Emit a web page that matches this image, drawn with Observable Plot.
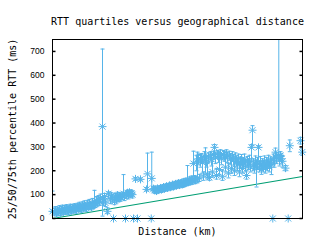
<!DOCTYPE html>
<html>
<head>
<meta charset="utf-8">
<script src="https://cdn.jsdelivr.net/npm/d3@7"></script>
<script src="https://cdn.jsdelivr.net/npm/@observablehq/plot@0.6"></script>
<style>
  html, body { margin: 0; padding: 0; background: #fff; }
  #chart svg { display: block; background: #fff; }
</style>
</head>
<body>
<div id="chart"></div>
<script>
// ---- data ----
const distKm = [
  0,160,240,320,400,480,560,640,720,800,880,960,1040,1120,1200,1280,1360,1440,1520,1600,1680,1760,1840,1920,2000,2080,2160,2240,2320,2400,2480,2560,2640,2720,2800,2880,2960,3040,3120,3200,3280,3360,3440,3520,3600,3680,3760,3840,
  4000,4080,4160,4240,4400,4480,4640,4720,4800,4880,4960,5040,5120,5200,5280,5360,5440,5600,5680,5760,5840,5920,6000,6080,6160,6240,6320,6400,6480,6640,6800,7040,7520,7600,7900,7940,
  8080,8160,8240,8320,8400,8480,8560,8640,8720,8800,8880,8960,9040,9120,9200,9280,9360,9440,9520,9600,9680,9760,9840,9920,10000,10080,10160,10240,10320,10400,10480,10560,10640,10720,10800,10880,10960,11040,11120,11200,11280,11360,11440,11520,11600,11680,11760,
  11840,11920,12000,12080,12160,12240,12320,12400,12480,12560,12640,12720,12800,12880,12960,13040,13120,13200,13280,13360,13440,13520,13600,13680,13760,13840,13920,14000,14080,14160,14240,14320,14400,14480,14560,14640,14720,14800,14880,14960,15040,15120,15200,15280,15360,15440,15520,15600,15680,15760,15840,15920,16000,16080,16160,16240,16320,16400,16480,16560,16640,16720,16800,16880,16960,17040,17120,17200,17280,17360,17440,17520,
  17624,17680,17760,17840,17920,18104,18160,18240,18320,18400,18640,18856,18984,19840,19976
];
const rttMedian = [
  30,26,34,22,32,27,38,24,33,40,29,37,32,42,35,28,40,44,34,42,37,46,40,35,48,42,50,44,39,52,46,55,49,43,57,51,60,54,48,63,56,66,60,72,66,78,70,84,
  385,70,92,65,30,104,78,95,85,0,72,90,80,98,86,92,88,95,104,90,0,100,108,98,110,104,106,100,0,166,0,164,122,187,0,168,
  125,118,122,115,126,120,124,128,121,127,132,125,130,135,128,134,138,131,136,142,134,140,145,138,144,148,140,146,150,143,152,147,155,150,158,152,160,155,162,158,230,165,160,240,168,250,170,
  245,255,235,178,262,250,240,185,258,172,265,248,195,268,298,255,180,270,260,205,272,250,175,268,262,215,270,258,190,265,250,210,262,245,200,255,240,225,250,195,235,245,210,232,248,220,180,240,228,245,215,298,370,225,210,240,220,230,298,215,238,205,228,218,240,210,232,222,245,215,235,225,
  0,250,240,278,255,263,245,264,250,240,211,0,305,326,278
];
const rttQ25 = [
  18,14,20,10,18,14,24,12,20,26,16,24,18,28,22,16,26,30,20,28,24,32,28,22,34,30,36,30,26,38,32,40,36,30,42,38,45,40,36,48,42,50,46,56,52,62,55,68,
  10,55,75,50,20,85,62,80,68,0,58,75,65,82,70,76,72,80,88,75,0,85,92,82,95,90,92,86,0,160,0,158,115,120,0,120,
  112,106,110,104,114,108,112,115,109,114,120,113,118,122,116,122,126,119,124,130,122,128,132,126,132,136,128,134,138,130,140,134,142,138,144,140,146,142,148,144,175,150,146,200,150,225,155,
  215,230,190,160,240,190,215,165,235,160,245,220,175,250,270,230,165,252,235,185,255,225,160,248,240,195,250,235,170,245,225,190,240,220,180,230,215,200,225,175,210,220,190,210,225,195,165,215,205,220,195,240,305,200,190,215,132,205,240,195,212,185,205,195,215,190,210,200,220,195,212,184,
  0,225,215,250,230,245,220,240,228,215,200,0,280,312,265
];
const rttQ75 = [
  115,44,50,40,48,44,54,40,50,56,46,54,48,58,52,44,56,60,50,58,54,62,58,52,64,60,68,62,56,70,64,74,66,60,76,68,80,72,66,84,74,118,78,92,86,96,90,102,
  710,88,105,82,45,112,95,108,100,0,90,105,98,110,102,108,104,110,184,106,0,115,118,112,120,116,118,114,0,172,0,170,130,274,0,278,
  135,128,132,125,136,130,134,138,131,137,142,135,140,145,138,144,148,142,146,152,146,150,156,150,155,160,152,158,162,156,165,160,168,164,222,166,174,170,178,174,282,180,176,265,278,270,185,
  268,272,260,195,280,296,262,230,275,195,280,270,240,282,310,275,210,285,280,250,288,270,200,285,280,260,288,278,230,282,272,255,280,268,240,275,262,250,270,235,258,268,250,255,270,245,200,260,250,265,240,310,389,250,235,262,245,255,305,240,260,230,250,242,262,232,255,245,265,238,258,250,
  0,270,262,295,275,900,268,280,270,260,222,0,329,340,292
];
const lineKm = [0, 20000];
const lineMs = [0, 176];
const yTicks = [0, 100, 200, 300, 400, 500, 600, 700];

const titleText = "RTT quartiles versus geographical distance";
const xLabel = "Distance (km)";
const yLabel = "25/50/75th percentile RTT (ms)";

// ---- build tables ----
const rows = distKm.map((d, i) => ({d, q25: rttQ25[i], med: rttMedian[i], q75: rttQ75[i]}));
const lineRows = lineKm.map((k, i) => ({k, ms: lineMs[i]}));

const blue = "#56b4e9";
const green = "#009e73";
const mono = "'DejaVu Sans Mono', monospace";

const starSym = {draw(ctx) {
  const r = 4, s = 3;
  ctx.moveTo(-r, 0); ctx.lineTo(r, 0);
  ctx.moveTo(0, -r); ctx.lineTo(0, r);
  ctx.moveTo(-s, -s); ctx.lineTo(s, s);
  ctx.moveTo(-s, s); ctx.lineTo(s, -s);
}};
const capSym = {draw(ctx) { ctx.moveTo(-2, 0); ctx.lineTo(2, 0); }};
const tickInRight = {draw(ctx) { ctx.moveTo(0, 0); ctx.lineTo(3, 0); }};
const tickInLeft = {draw(ctx) { ctx.moveTo(0, 0); ctx.lineTo(-3, 0); }};

const chart = Plot.plot({
  width: 320,
  height: 240,
  marginLeft: 52,
  marginRight: 18,
  marginTop: 39,
  marginBottom: 22,
  style: {background: "#fff", overflow: "visible"},
  x: {domain: [0, 20000], axis: null},
  y: {domain: [0, 750], axis: null},
  marks: [
    Plot.line(lineRows, {x: "k", y: "ms", stroke: green, strokeWidth: 1.2}),
    Plot.ruleX(rows, {x: "d", y1: "q25", y2: "q75", stroke: blue, strokeWidth: 1, clip: true}),
    Plot.dot(rows, {x: "d", y: "q25", symbol: capSym, fill: "none", stroke: blue, strokeWidth: 1, clip: true}),
    Plot.dot(rows, {x: "d", y: "q75", symbol: capSym, fill: "none", stroke: blue, strokeWidth: 1, clip: true}),
    Plot.dot(rows, {x: "d", y: "med", symbol: starSym, fill: "none", stroke: blue, strokeWidth: 1}),
    Plot.frame({stroke: "black", strokeWidth: 1}),
    Plot.dot(yTicks, {y: d => d, frameAnchor: "left", symbol: tickInRight, fill: "none", stroke: "black"}),
    Plot.dot(yTicks, {y: d => d, frameAnchor: "right", symbol: tickInLeft, fill: "none", stroke: "black"}),
    Plot.axisY(yTicks, {tickSize: 0, tickPadding: 8, label: null, fontSize: 8.5, fontFamily: "'Liberation Sans', Arial, sans-serif", fill: "black"}),
    Plot.text([titleText], {frameAnchor: "top", dy: -18, textAnchor: "middle", lineAnchor: "middle", fontSize: 10, fontFamily: mono, fill: "black"}),
    Plot.text([xLabel], {frameAnchor: "bottom", dy: 13, textAnchor: "middle", lineAnchor: "middle", fontSize: 10, fontFamily: mono, fill: "black"}),
    Plot.text([yLabel], {frameAnchor: "left", dx: -40, rotate: -90, textAnchor: "middle", lineAnchor: "middle", fontSize: 10, fontFamily: mono, fill: "black"})
  ]
});
document.getElementById("chart").appendChild(chart);
</script>
</body>
</html>
